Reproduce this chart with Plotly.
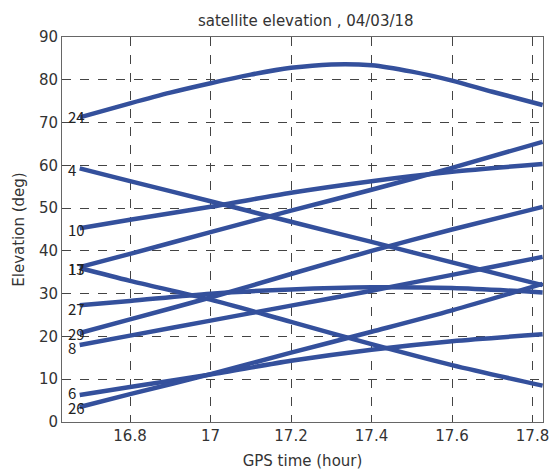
import plotly.graph_objects as go

# time grid (hour)
T = [16.675, 16.8, 17.0, 17.2, 17.4, 17.6, 17.825]
T24 = [16.675, 16.8, 16.9, 17.0, 17.1, 17.2, 17.3, 17.4, 17.5, 17.6, 17.7, 17.825]

sat_ids = ["24", "4", "10", "13", "17", "27", "29", "8", "6", "26"]
el_24 = [71.2, 74.5, 77.0, 79.2, 81.2, 82.8, 83.6, 83.4, 81.9, 79.8, 77.2, 74.1]
el_4 = [59.3, 56.3, 51.6, 46.8, 42.1, 37.3, 32.0]
el_10 = [45.3, 47.3, 50.3, 53.6, 56.3, 58.5, 60.3]
el_13 = [36.2, 39.3, 44.4, 49.4, 54.3, 59.4, 65.5]
el_17 = [36.0, 33.0, 28.6, 23.4, 18.2, 13.3, 8.5]
el_27 = [27.3, 28.3, 30.0, 31.0, 31.5, 31.3, 30.3]
el_29 = [20.8, 24.0, 29.1, 34.6, 40.0, 45.0, 50.3]
el_8 = [18.0, 20.2, 23.7, 27.2, 30.7, 34.4, 38.6]
el_6 = [6.3, 8.2, 11.1, 14.3, 16.9, 18.9, 20.5]
el_26 = [3.5, 6.5, 11.2, 16.2, 21.1, 26.1, 32.3]

label_y = [71.5, 59.0, 45.0, 36.0, 36.0, 26.6, 20.6, 17.5, 6.8, 3.3]

series = [el_24, el_4, el_10, el_13, el_17, el_27, el_29, el_8, el_6, el_26]
times = [T24] + [T] * 9

FONT = "DejaVu Sans"
LBL_FONT = "Noto Sans CJK JP"
LINE_COLOR = "#34509c"

fig = go.Figure()
for sid, tt, vals in zip(sat_ids, times, series):
    fig.add_trace(go.Scatter(
        x=tt, y=vals, mode="lines", name=sid,
        line=dict(color=LINE_COLOR, width=4.5, shape="spline", smoothing=0.8),
        showlegend=False, hoverinfo="skip",
    ))

for sid, ly in zip(sat_ids, label_y):
    fig.add_annotation(
        x=16.641, y=ly, text=sid, showarrow=False, xanchor="left", yanchor="middle",
        font=dict(family=LBL_FONT, size=15, color="#222222"),
    )

fig.update_layout(
    width=557, height=475,
    margin=dict(l=62, r=8, t=37, b=53),
    paper_bgcolor="white", plot_bgcolor="white",
    title=dict(text="satellite elevation , 04/03/18", x=0.549, xanchor="center",
               y=0.957, yanchor="middle",
               font=dict(family=FONT, size=15, color="#333333")),
    font=dict(family=FONT, color="#333333"),
)
fig.update_xaxes(
    range=[16.631, 17.826], tickvals=[16.8, 17.0, 17.2, 17.4, 17.6, 17.8],
    ticktext=["16.8", "17", "17.2", "17.4", "17.6", "17.8"],
    showgrid=True, gridcolor="#444444", griddash="dash", gridwidth=1,
    showline=True, linecolor="#666666", linewidth=1, mirror=True,
    ticks="", zeroline=False,
    tickfont=dict(family=FONT, size=15, color="#333333"),
    title=dict(text="GPS time (hour)", font=dict(family=FONT, size=15, color="#333333"), standoff=11),
)
fig.update_yaxes(
    range=[0, 90], tickvals=list(range(0, 91, 10)),
    showgrid=True, gridcolor="#444444", griddash="dash", gridwidth=1,
    showline=True, linecolor="#666666", linewidth=1, mirror=True,
    ticks="", zeroline=False,
    tickfont=dict(family=FONT, size=15, color="#333333"),
    title=dict(text="Elevation (deg)", font=dict(family=FONT, size=15, color="#333333"), standoff=10),
)

fig.write_html("out.html")
